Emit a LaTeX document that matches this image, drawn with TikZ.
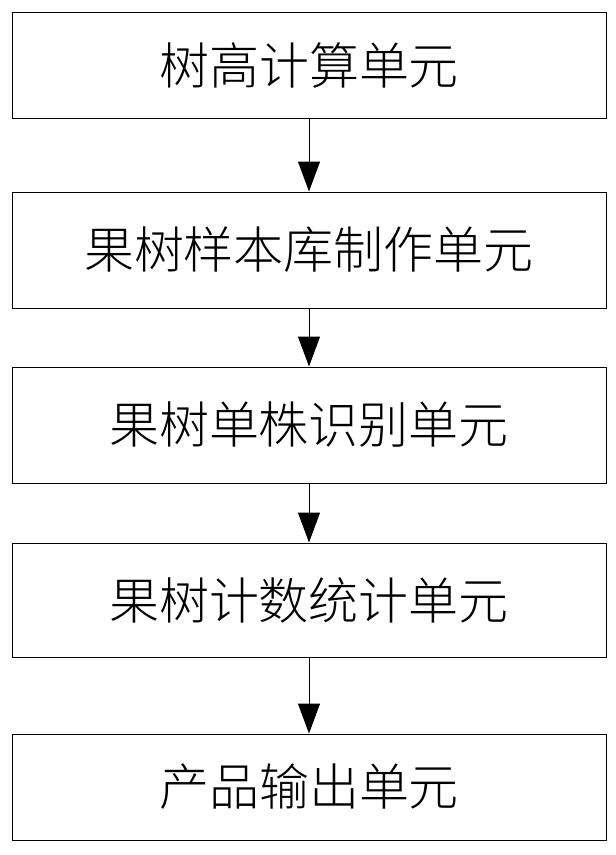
\documentclass[tikz,border=0pt]{standalone}
\usepackage{fontspec}
\newfontfamily\cjk{Noto Sans CJK SC Light}[Scale=1]
\usetikzlibrary{positioning,arrows.meta}
\begin{document}
\begin{tikzpicture}[x=1pt,y=1pt]
[every node/.style={inner sep=0pt}]
\tikzset{unit/.style={draw=black, line width=1pt, minimum width=594pt, minimum height=106pt, inner sep=0pt, font=\cjk\fontsize{50pt}{50pt}\selectfont},
  flow/.style={line width=1pt, -{Triangle[length=30pt,width=22pt]}}}
\useasboundingbox (0,0) rectangle (616,-855);
\node (1) [unit, minimum height=106pt] at (309, -65)  {树高计算单元};
\node (2) [unit, minimum height=116pt] at (309, -250) {果树样本库制作单元};
\node (3) [unit, minimum height=116pt] at (309, -425) {果树单株识别单元};
\node (4) [unit, minimum height=114pt] at (309, -600) {果树计数统计单元};
\node (5) [unit, minimum height=106pt] at (309, -787) {产品输出单元};
\draw [flow] (1) to (2);
\draw [flow] (2) to (3);
\draw [flow] (3) to (4);
\draw [flow] (4) to (5);
\end{tikzpicture}
\end{document}
